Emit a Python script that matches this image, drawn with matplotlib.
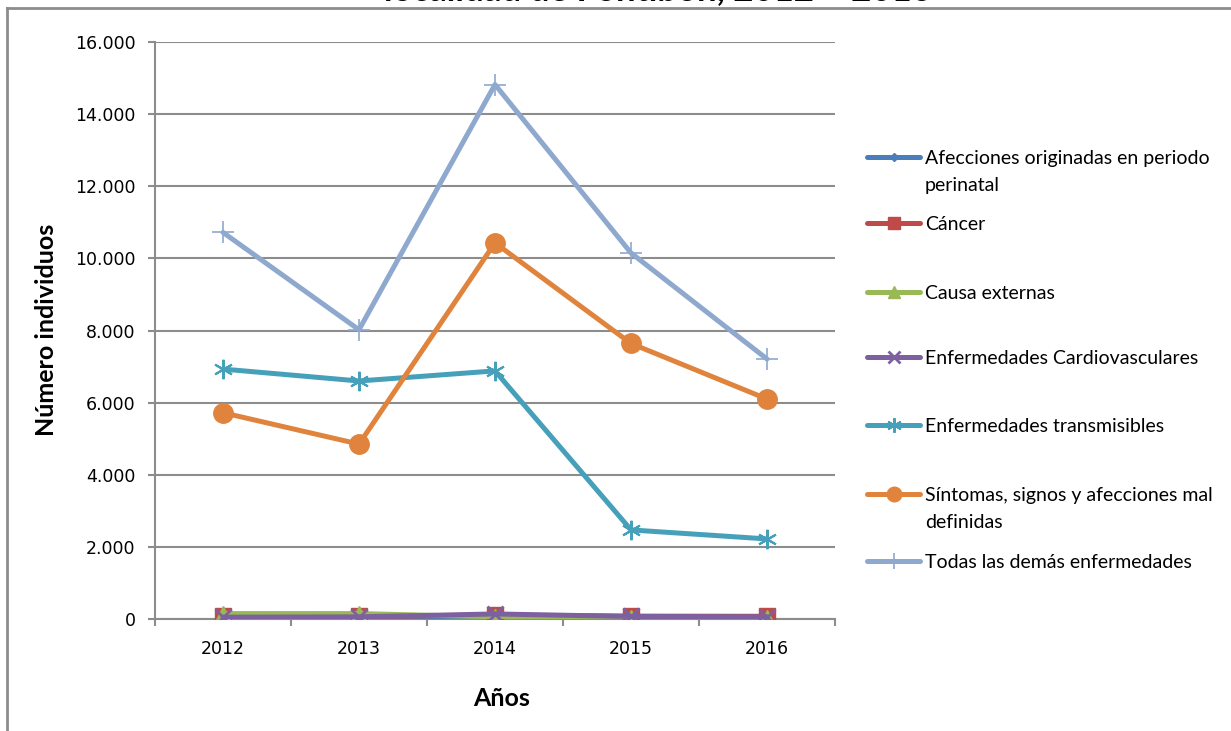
import matplotlib
matplotlib.use("Agg")
import matplotlib.pyplot as plt
from matplotlib.lines import Line2D
from matplotlib.ticker import FuncFormatter, FixedLocator, MultipleLocator

plt.rcParams["font.family"] = ["DejaVu Sans"]

years = ["2012", "2013", "2014", "2015", "2016"]
afecciones_perinatal = [10, 10, 5, 5, 5]
cancer = [70, 70, 110, 80, 75]
causa_externas = [150, 150, 60, 20, 30]
cardiovasculares = [50, 60, 140, 70, 60]
transmisibles = [6930, 6600, 6880, 2470, 2220]
sintomas = [5720, 4850, 10430, 7640, 6100]
todas_demas = [10720, 8020, 14820, 10150, 7210]

series_labels = [
    "Afecciones originadas en periodo\nperinatal",
    "Cáncer",
    "Causa externas",
    "Enfermedades Cardiovasculares",
    "Enfermedades transmisibles",
    "Síntomas, signos y afecciones mal\ndefinidas",
    "Todas las demás enfermedades",
]
series_values = [afecciones_perinatal, cancer, causa_externas, cardiovasculares,
                 transmisibles, sintomas, todas_demas]
colors = ["#4A7EBB", "#BE4B48", "#98B954", "#7D60A0", "#46A0BA", "#E0843D", "#8EA8CE"]
markers = ["D", "s", "^", "x", (6, 2, 0), "o", "+"]
msizes = [6, 12, 11, 11, 14, 14, 16]
mews = [1, 1, 1, 2, 1.5, 1, 1.2]

W, H = 1231, 731
fig = plt.figure(figsize=(W / 100, H / 100), dpi=100)

def fx(px):
    return px / W

def fy(py):
    return 1 - py / H

ax = fig.add_axes([fx(155), fy(619), fx(835) - fx(155), fy(42) - fy(619)])

x = list(range(len(years)))
for vals, c, m, ms, mew in zip(series_values, colors, markers, msizes, mews):
    ax.plot(x, vals, color=c, lw=3.6, marker=m, markersize=ms,
            markeredgewidth=mew, markeredgecolor=c, markerfacecolor=c,
            solid_capstyle="round", solid_joinstyle="round", zorder=3)

ax.set_xlim(-0.5, len(years) - 0.5)
ax.set_ylim(0, 16000)
ax.yaxis.set_major_locator(MultipleLocator(2000))
ax.yaxis.set_major_formatter(FuncFormatter(lambda v, p: f"{int(v):,}".replace(",", ".")))
ax.set_xticks(x)
ax.set_xticklabels(years)
ax.xaxis.set_minor_locator(FixedLocator([i - 0.5 for i in range(len(years) + 1)]))

gray = "#8C8C8C"
ax.grid(axis="y", color=gray, lw=1.5, zorder=0)
ax.set_axisbelow(True)
for s in ["top", "right"]:
    ax.spines[s].set_visible(False)
for s in ["left", "bottom"]:
    ax.spines[s].set_color(gray)
    ax.spines[s].set_linewidth(1.5)

ax.tick_params(axis="x", which="major", length=0, pad=15, labelsize=12.5)
ax.tick_params(axis="x", which="minor", length=5, width=1.5, color=gray, direction="out")
ax.tick_params(axis="y", which="major", length=5, width=1.5, color=gray, pad=9, labelsize=12.5)

fig.text(fx(47), fy(330), "Número individuos", rotation=90, ha="center", va="center",
         fontsize=18, fontweight="bold", family="Lato")
fig.text(fx(502), fy(699), "Años", ha="center", va="center",
         fontsize=18, fontweight="bold", family="Lato")

# clipped title at the top (only its lower edge is visible, as in the reference)
fig.text(fx(658), fy(0.5), "localidad de Fontibón, 2012 – 2016", ha="center", va="baseline",
         fontsize=25, fontweight="bold", family="Lato")

# frame lines of the chart area
fig.add_artist(Line2D([fx(7), 1.0], [fy(8), fy(8)], color=gray, lw=2))
fig.add_artist(Line2D([fx(7), fx(7)], [fy(8), 0.0], color=gray, lw=2))

# legend drawn manually
legend_y = [157, 223, 292, 357, 425, 494, 561]
for ly, lab, c, m, ms, mew in zip(legend_y, series_labels, colors, markers, msizes, mews):
    fig.add_artist(Line2D([fx(867), fx(920)], [fy(ly), fy(ly)], color=c, lw=3.6,
                          solid_capstyle="round"))
    fig.add_artist(Line2D([fx(893.5)], [fy(ly)], color=c, marker=m,
                          markersize=ms * 0.75, markeredgewidth=mew, markeredgecolor=c,
                          markerfacecolor=c))
    fig.text(fx(925), fy(ly - 7), lab, ha="left", va="top", fontsize=14,
             family="Lato", linespacing=1.68)

fig.savefig("out.png", dpi=100)
